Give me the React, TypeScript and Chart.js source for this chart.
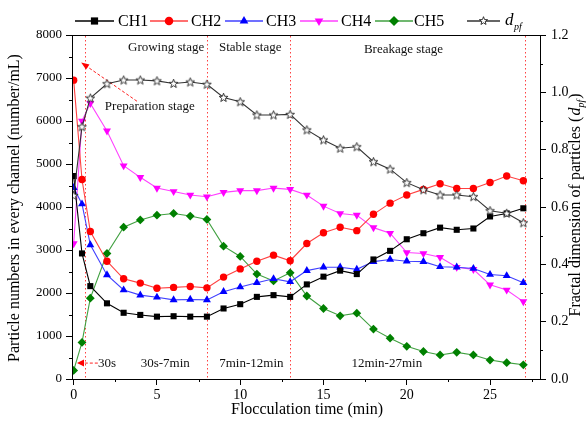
import React, { useEffect, useRef } from 'react';
import { Chart, registerables } from 'chart.js';

Chart.register(...registerables);

// ---------------- data ----------------
const times = [0, 0.5, 1, 2, 3, 4, 5, 6, 7, 8, 9, 10, 11, 12, 13, 14, 15, 16, 17, 18, 19, 20, 21, 22, 23, 24, 25, 26, 27];
const ch1 = [4720, 2920, 2160, 1760, 1540, 1490, 1450, 1460, 1450, 1450, 1640, 1740, 1910, 1950, 1910, 2200, 2380, 2520, 2440, 2780, 2980, 3250, 3390, 3520, 3470, 3500, 3780, 3850, 3970];
const ch2 = [6950, 4640, 3430, 2740, 2330, 2230, 2110, 2130, 2150, 2120, 2370, 2560, 2740, 2880, 2750, 3150, 3400, 3530, 3450, 3830, 4090, 4280, 4410, 4540, 4430, 4430, 4570, 4720, 4610];
const ch3 = [4450, 4070, 3120, 2420, 2070, 1950, 1900, 1840, 1850, 1840, 2030, 2140, 2240, 2330, 2260, 2520, 2600, 2600, 2550, 2730, 2780, 2740, 2730, 2610, 2600, 2570, 2430, 2400, 2240];
const ch4 = [3150, 6000, 6410, 5770, 4960, 4690, 4440, 4360, 4280, 4240, 4340, 4380, 4380, 4440, 4410, 4280, 4020, 3850, 3810, 3520, 3390, 2940, 2920, 2830, 2600, 2550, 2190, 2070, 1800];
const ch5 = [200, 850, 1880, 2920, 3530, 3700, 3810, 3850, 3790, 3710, 3090, 2850, 2440, 2280, 2470, 1930, 1640, 1470, 1530, 1160, 950, 760, 640, 560, 620, 560, 440, 380, 330];
const dpf = [0.64, 0.88, 0.98, 1.03, 1.043, 1.043, 1.04, 1.031, 1.036, 1.028, 0.982, 0.967, 0.921, 0.921, 0.923, 0.869, 0.834, 0.805, 0.81, 0.758, 0.732, 0.685, 0.66, 0.642, 0.642, 0.636, 0.587, 0.578, 0.545];

const xTicks = [0, 5, 10, 15, 20, 25];
const xMinorTicks = [2.5, 7.5, 12.5, 17.5, 22.5, 27.5];
const leftTicks = [0, 1000, 2000, 3000, 4000, 5000, 6000, 7000, 8000];
const leftMinorTicks = [500, 1500, 2500, 3500, 4500, 5500, 6500, 7500];
const rightTicks = [0, 0.2, 0.4, 0.6, 0.8, 1.0, 1.2];
const rightMinorTicks = [0.1, 0.3, 0.5, 0.7, 0.9, 1.1];
const stageLines = [0.67, 8, 13, 27.1];

const stageTitles = [
  { text: 'Growing stage', t: 5.55, v: 7700 },
  { text: 'Stable stage', t: 10.6, v: 7700 },
  { text: 'Breakage stage', t: 19.8, v: 7650 },
  { text: 'Preparation stage', t: 4.57, v: 6340 },
];
const periodLabels = [
  { text: '30s', t: 2.0, v: 370 },
  { text: '30s-7min', t: 5.5, v: 370 },
  { text: '7min-12min', t: 10.67, v: 370 },
  { text: '12min-27min', t: 18.8, v: 370 },
];

const FONT = '"Liberation Serif", "Times New Roman", serif';

type Marker = 'rect' | 'circle' | 'tri' | 'triDown' | 'diamond' | 'star';

function markerPath(ctx: CanvasRenderingContext2D, m: Marker, x: number, y: number, r: number) {
  ctx.beginPath();
  if (m === 'rect') {
    const s = r * 0.72;
    ctx.rect(x - s, y - s, 2 * s, 2 * s);
  } else if (m === 'circle') {
    ctx.arc(x, y, r * 0.85, 0, Math.PI * 2);
  } else if (m === 'tri' || m === 'triDown') {
    const d = m === 'tri' ? 1 : -1;
    ctx.moveTo(x, y - d * r);
    ctx.lineTo(x + r * 0.866, y + d * r * 0.5);
    ctx.lineTo(x - r * 0.866, y + d * r * 0.5);
    ctx.closePath();
  } else if (m === 'diamond') {
    ctx.moveTo(x, y - r);
    ctx.lineTo(x + r, y);
    ctx.lineTo(x, y + r);
    ctx.lineTo(x - r, y);
    ctx.closePath();
  } else {
    const ro = r, ri = r * 0.42;
    for (let i = 0; i < 10; i++) {
      const a = -Math.PI / 2 + (i * Math.PI) / 5;
      const rr = i % 2 === 0 ? ro : ri;
      const px = x + Math.cos(a) * rr, py = y + Math.sin(a) * rr;
      if (i === 0) ctx.moveTo(px, py); else ctx.lineTo(px, py);
    }
    ctx.closePath();
  }
}

function makeStar(): HTMLCanvasElement {
  const c = document.createElement('canvas');
  c.width = 11; c.height = 11;
  const g = c.getContext('2d')!;
  markerPath(g, 'star', 5.5, 5.8, 4.6);
  g.fillStyle = '#fff';
  g.fill();
  g.strokeStyle = '#222';
  g.lineWidth = 0.9;
  g.stroke();
  return c;
}

const legendItems: { label: string; line: string; fill: string; marker: Marker; x0: number; x1: number; tx: number }[] = [
  { label: 'CH1', line: '#000000', fill: '#000000', marker: 'rect', x0: 75, x1: 114, tx: 118 },
  { label: 'CH2', line: '#ff4040', fill: '#ff0000', marker: 'circle', x0: 150, x1: 188, tx: 191 },
  { label: 'CH3', line: '#4040ff', fill: '#0000ff', marker: 'tri', x0: 225, x1: 263, tx: 266 },
  { label: 'CH4', line: '#ff40ff', fill: '#ff00ff', marker: 'triDown', x0: 300, x1: 338, tx: 341 },
  { label: 'CH5', line: '#40a040', fill: '#008000', marker: 'diamond', x0: 375, x1: 413, tx: 414 },
  { label: 'd', line: '#333333', fill: '#ffffff', marker: 'star', x0: 467, x1: 500, tx: 505 },
];

function arrowHead(ctx: CanvasRenderingContext2D, fx: number, fy: number, tx: number, ty: number, len: number, wid: number) {
  const a = Math.atan2(ty - fy, tx - fx);
  ctx.beginPath();
  ctx.moveTo(tx, ty);
  ctx.lineTo(tx - len * Math.cos(a) + wid * Math.sin(a), ty - len * Math.sin(a) - wid * Math.cos(a));
  ctx.lineTo(tx - len * Math.cos(a) - wid * Math.sin(a), ty - len * Math.sin(a) + wid * Math.cos(a));
  ctx.closePath();
  ctx.fill();
}

const decor = {
  id: 'decor',
  beforeDatasetsDraw(chart: any) {
    const { ctx, chartArea: a, scales } = chart;
    const x = scales.x, y = scales.y;
    ctx.save();
    ctx.strokeStyle = '#ff4040';
    ctx.lineWidth = 1;
    ctx.setLineDash([1.5, 2.5]);
    stageLines.forEach((t) => {
      const px = Math.round(x.getPixelForValue(t)) + 0.5;
      ctx.beginPath();
      ctx.moveTo(px, a.top + 1);
      ctx.lineTo(px, a.bottom);
      ctx.stroke();
    });
    // preparation arrow
    ctx.strokeStyle = '#ff2020';
    ctx.setLineDash([3, 2]);
    const p0x = x.getPixelForValue(3.8), p0y = y.getPixelForValue(6460);
    const p1x = x.getPixelForValue(0.45), p1y = y.getPixelForValue(7360);
    ctx.beginPath();
    ctx.moveTo(p0x, p0y);
    ctx.lineTo(p1x + 5, p1y + 3.4);
    ctx.stroke();
    ctx.setLineDash([]);
    ctx.fillStyle = '#ff0000';
    arrowHead(ctx, p0x, p0y, p1x, p1y, 8, 3);
    // 30s arrow
    ctx.setLineDash([3, 2]);
    const q0x = x.getPixelForValue(1.45), qy = y.getPixelForValue(370);
    const q1x = x.getPixelForValue(0.2);
    ctx.beginPath();
    ctx.moveTo(q0x, qy);
    ctx.lineTo(q1x + 5, qy);
    ctx.stroke();
    ctx.setLineDash([]);
    arrowHead(ctx, q0x, qy, q1x, qy, 7, 3.5);
    ctx.restore();
  },
  afterDraw(chart: any) {
    const { ctx, chartArea: a, scales } = chart;
    const x = scales.x, y = scales.y, y1 = scales.y1;
    ctx.save();
    // frame
    ctx.strokeStyle = '#000';
    ctx.lineWidth = 1;
    ctx.setLineDash([]);
    ctx.strokeRect(Math.round(a.left) + 0.5, Math.round(a.top) + 0.5, Math.round(a.right - a.left), Math.round(a.bottom - a.top));
    // minor ticks
    ctx.beginPath();
    xMinorTicks.forEach((t) => {
      const px = Math.round(x.getPixelForValue(t)) + 0.5;
      ctx.moveTo(px, a.bottom); ctx.lineTo(px, a.bottom + 3);
    });
    leftMinorTicks.forEach((v) => {
      const py = Math.round(y.getPixelForValue(v)) + 0.5;
      ctx.moveTo(a.left, py); ctx.lineTo(a.left - 3, py);
    });
    rightMinorTicks.forEach((v) => {
      const py = Math.round(y1.getPixelForValue(v)) + 0.5;
      ctx.moveTo(a.right, py); ctx.lineTo(a.right + 3, py);
    });
    ctx.stroke();

    // stage texts
    ctx.fillStyle = '#111';
    ctx.font = `13px ${FONT}`;
    ctx.textAlign = 'center';
    ctx.textBaseline = 'middle';
    stageTitles.forEach((s) => ctx.fillText(s.text, x.getPixelForValue(s.t), y.getPixelForValue(s.v)));
    periodLabels.forEach((s) => ctx.fillText(s.text, x.getPixelForValue(s.t), y.getPixelForValue(s.v)));

    // legend
    const ly = 21;
    legendItems.forEach((it) => {
      ctx.strokeStyle = it.line;
      ctx.lineWidth = 1.3;
      ctx.beginPath();
      ctx.moveTo(it.x0, ly); ctx.lineTo(it.x1, ly);
      ctx.stroke();
      const cx = (it.x0 + it.x1) / 2;
      markerPath(ctx, it.marker, cx, ly, it.marker === 'star' ? 4.3 : 5);
      ctx.fillStyle = it.fill;
      ctx.fill();
      if (it.marker === 'star') { ctx.strokeStyle = '#222'; ctx.lineWidth = 0.9; ctx.stroke(); }
      ctx.fillStyle = '#000';
      ctx.textAlign = 'left';
      ctx.textBaseline = 'middle';
      if (it.label === 'd') {
        ctx.font = `italic 17px ${FONT}`;
        ctx.fillText('d', it.tx, ly);
        const w = ctx.measureText('d').width;
        ctx.font = `italic 10px ${FONT}`;
        ctx.fillText('pf', it.tx + w + 0.5, ly + 6);
      } else {
        ctx.font = `16px ${FONT}`;
        ctx.fillText(it.label, it.tx, ly + 1);
      }
    });

    // axis titles
    ctx.fillStyle = '#000';
    ctx.textAlign = 'center';
    ctx.textBaseline = 'middle';
    ctx.font = `16px ${FONT}`;
    ctx.fillText('Flocculation time (min)', (a.left + a.right) / 2 + 1, 410);

    ctx.save();
    ctx.translate(15, 208);
    ctx.rotate(-Math.PI / 2);
    ctx.fillText('Particle numbers in every channel (number/mL)', 0, 0);
    ctx.restore();

    ctx.save();
    ctx.translate(576, 205);
    ctx.rotate(-Math.PI / 2);
    const part1 = 'Fractal dimension of particles (';
    ctx.font = `16px ${FONT}`;
    const w1 = ctx.measureText(part1).width;
    ctx.font = `italic 16px ${FONT}`;
    const wd = ctx.measureText('d').width;
    ctx.font = `italic 10px ${FONT}`;
    const wpf = ctx.measureText('pf').width;
    ctx.font = `16px ${FONT}`;
    const wc = ctx.measureText(')').width;
    const total = w1 + wd + wpf + wc + 2;
    let cx = -total / 2;
    ctx.textAlign = 'left';
    ctx.fillText(part1, cx, 0); cx += w1 + 1;
    ctx.font = `italic 16px ${FONT}`;
    ctx.fillText('d', cx, 0); cx += wd;
    ctx.font = `italic 10px ${FONT}`;
    ctx.fillText('pf', cx, 5); cx += wpf + 1;
    ctx.font = `16px ${FONT}`;
    ctx.fillText(')', cx, 0);
    ctx.restore();

    ctx.restore();
  },
};

export default function App() {
  const ref = useRef<HTMLCanvasElement | null>(null);

  useEffect(() => {
    if (!ref.current) return;
    const star = makeStar();
    const mk = (label: string, vals: number[], line: string, fill: string, style: any, radius: number, rotation = 0, axis = 'y') => ({
      label,
      data: times.map((t, i) => ({ x: t, y: vals[i] })),
      borderColor: line,
      backgroundColor: fill,
      pointBackgroundColor: fill,
      pointBorderColor: fill,
      pointBorderWidth: 0,
      borderWidth: 1.1,
      pointStyle: style,
      pointRadius: radius,
      pointRotation: rotation,
      yAxisID: axis,
      tension: 0,
    });

    const chart = new Chart(ref.current, {
      type: 'line',
      data: {
        datasets: [
          mk('dpf', dpf, '#333333', '#ffffff', star, 4.5, 0, 'y1'),
          mk('CH1', ch1, '#000000', '#000000', 'rect', 4.3),
          mk('CH2', ch2, '#ff4040', '#ff0000', 'circle', 3.7),
          mk('CH3', ch3, '#4040ff', '#0000ff', 'triangle', 4.6),
          mk('CH4', ch4, '#ff40ff', '#ff00ff', 'triangle', 4.6, 180),
          mk('CH5', ch5, '#40a040', '#008000', 'rectRot', 4.4),
        ] as any,
      },
      options: {
        animation: false,
        responsive: false,
        devicePixelRatio: 1,
        layout: { padding: { top: 35, left: 0, right: 0, bottom: 0 } },
        plugins: { legend: { display: false }, tooltip: { enabled: false }, title: { display: false } },
        scales: {
          x: {
            type: 'linear',
            min: -0.1,
            max: 28,
            afterBuildTicks: (s: any) => { s.ticks = xTicks.map((v) => ({ value: v })); },
            afterFit: (s: any) => { s.height = 44; },
            ticks: { color: '#000', font: { family: FONT, size: 14 }, padding: 2, maxRotation: 0, autoSkip: false, callback: (v: any) => String(v) },
            grid: { drawOnChartArea: false, drawTicks: true, tickLength: 6, color: '#000', tickColor: '#000', tickWidth: 1 },
            border: { display: true, color: '#000', width: 1 },
          },
          y: {
            type: 'linear',
            position: 'left',
            min: 0,
            max: 8000,
            afterBuildTicks: (s: any) => { s.ticks = leftTicks.map((v) => ({ value: v })); },
            afterFit: (s: any) => { s.width = 72; },
            ticks: { color: '#000', font: { family: FONT, size: 13 }, padding: 4, autoSkip: false, callback: (v: any) => String(v) },
            grid: { drawOnChartArea: false, drawTicks: true, tickLength: 6, color: '#000', tickColor: '#000' },
            border: { display: true, color: '#000', width: 1 },
          },
          y1: {
            type: 'linear',
            position: 'right',
            min: 0,
            max: 1.2,
            afterBuildTicks: (s: any) => { s.ticks = rightTicks.map((v) => ({ value: v })); },
            afterFit: (s: any) => { s.width = 47; },
            ticks: { color: '#000', font: { family: FONT, size: 14 }, padding: 5, autoSkip: false, callback: (v: any) => Number(v).toFixed(1) },
            grid: { drawOnChartArea: false, drawTicks: true, tickLength: 6, color: '#000', tickColor: '#000' },
            border: { display: true, color: '#000', width: 1 },
          },
        },
      } as any,
      plugins: [decor],
    });
    return () => chart.destroy();
  }, []);

  return (
    <div style={{ position: 'absolute', left: 0, top: 0, width: 587, height: 423, background: '#fff' }}>
      <canvas ref={ref} width={587} height={423} style={{ width: 587, height: 423, display: 'block' }} />
    </div>
  );
}
